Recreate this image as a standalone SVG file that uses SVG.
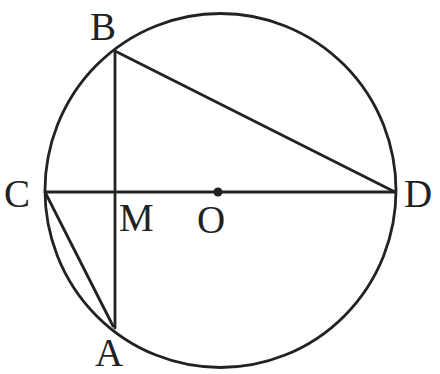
<svg xmlns="http://www.w3.org/2000/svg" width="440" height="374" viewBox="0 0 440 374">
<style>
.l{stroke:#222;stroke-width:2.8;fill:none;stroke-linecap:round}
.t{font-family:"Liberation Serif","DejaVu Serif",serif;font-size:39px;fill:#222}
</style>
<rect width="440" height="374" fill="#fff"/>
<g id="circle"><ellipse class="l" cx="220.5" cy="190.5" rx="175.5" ry="177"/></g>
<g id="connectors">
<line class="l" x1="45" y1="192" x2="395" y2="192"/>
<line class="l" x1="115" y1="51" x2="115" y2="328"/>
<line class="l" x1="115" y1="51" x2="395" y2="192"/>
<line class="l" x1="46" y1="194" x2="113" y2="326"/>
</g>
<g id="O"><circle cx="218" cy="192" r="4.5" fill="#222"/><text class="t" x="197" y="233">O</text></g>
<g id="B"><text class="t" x="90" y="40">B</text></g>
<g id="C"><text class="t" x="4" y="207">C</text></g>
<g id="D"><text class="t" x="404" y="207">D</text></g>
<g id="M"><text class="t" x="119" y="231">M</text></g>
<g id="A"><text class="t" x="95" y="366">A</text></g>
</svg>
